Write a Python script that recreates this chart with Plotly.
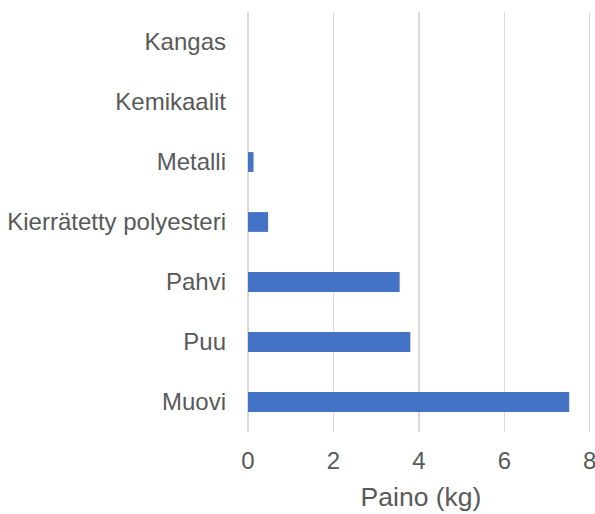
import plotly.graph_objects as go

categories = ["Muovi", "Puu", "Pahvi", "Kierrätetty polyesteri", "Metalli", "Kemikaalit", "Kangas"]
values = [7.52, 3.8, 3.55, 0.47, 0.13, 0.0, 0.0]
x_ticks = [0, 2, 4, 6, 8]

fig = go.Figure(go.Bar(
    y=categories, x=values, orientation="h",
    marker=dict(color="#4472C4", line=dict(width=0)),
    hoverinfo="skip",
))
fig.update_layout(
    width=595, height=514,
    margin=dict(l=248, r=1, t=12, b=82, autoexpand=False),
    paper_bgcolor="white", plot_bgcolor="white",
    bargap=0.67,
    showlegend=False,
    font=dict(family="Liberation Sans, Arial, sans-serif", color="#595959", size=24),
)
fig.update_xaxes(
    range=[0, 8.1], tickvals=x_ticks, showgrid=True, gridcolor="#D9D9D9", gridwidth=1.5,
    zeroline=True, zerolinecolor="#D9D9D9", zerolinewidth=1.5,
    ticks="", ticklabelstandoff=12, ticklabeloverflow="allow",
    tickfont=dict(size=24, color="#595959"),
    title=dict(text="Paino (kg)", font=dict(size=26.5, color="#595959"), standoff=14),
    fixedrange=True, automargin=False,
)
fig.update_yaxes(
    type="category", categoryorder="array", categoryarray=categories,
    showgrid=False, ticks="", ticklabelstandoff=21,
    tickfont=dict(size=24, color="#595959"), fixedrange=True, automargin=False,
)
fig.write_html(
    "out.html",
    config={"displayModeBar": False, "staticPlot": True},
    post_script="document.body.style.margin='0';document.body.style.overflow='hidden';",
)
